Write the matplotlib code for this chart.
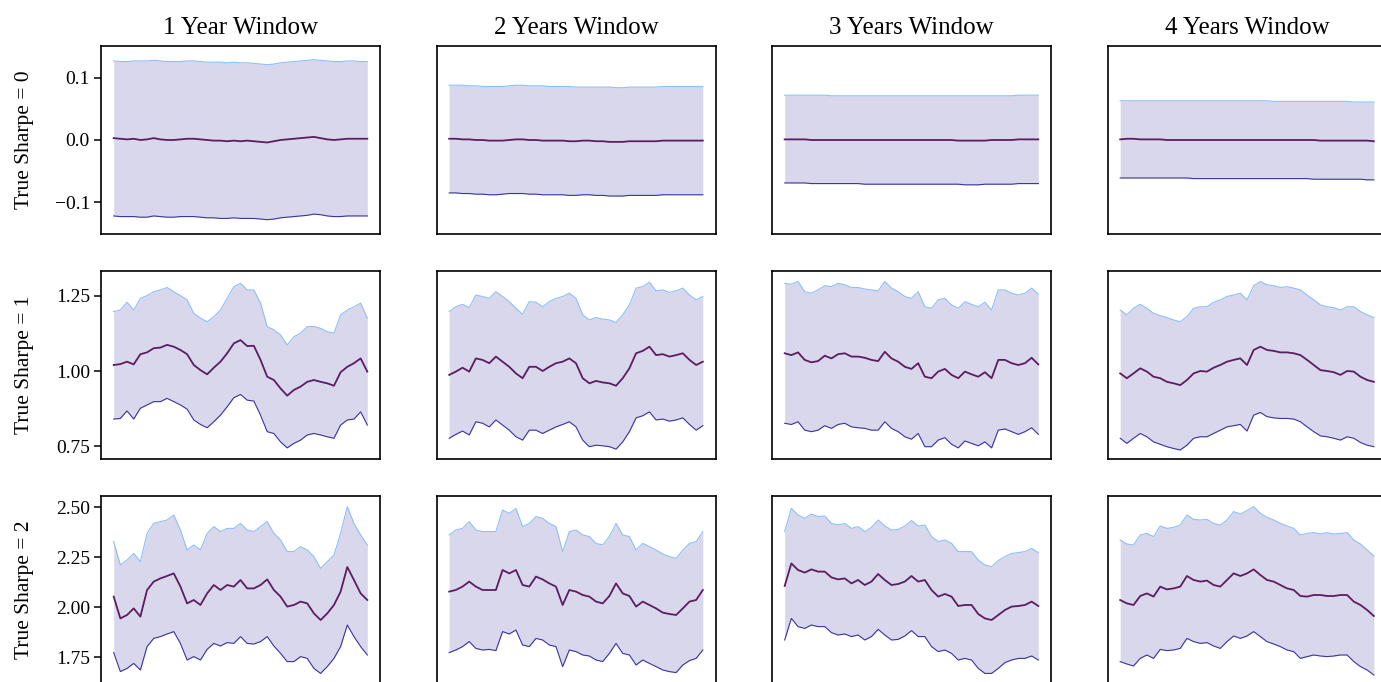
import numpy as np
import matplotlib
matplotlib.use("Agg")
import matplotlib.pyplot as plt

plt.rcParams["font.family"] = ["Liberation Serif", "DejaVu Serif"]

windows = ["1 Year Window", "2 Years Window", "3 Years Window", "4 Years Window"]
true_sharpes = [0, 1, 2]

# ---- True Sharpe = 0 ----
s0_w1_mean = [0.003, 0.002, 0.001, 0.002, 0.000, 0.001, 0.003, 0.001, 0.000, 0.000, 0.001, 0.002, 0.002,
              0.001, 0.000, -0.001, -0.001, -0.002, -0.001, -0.002, -0.001, -0.002, -0.003, -0.004, -0.002,
              0.000, 0.001, 0.002, 0.003, 0.004, 0.005, 0.003, 0.001, 0.000, 0.001, 0.002, 0.002, 0.002, 0.002]
s0_w1_upper = [0.127, 0.126, 0.126, 0.127, 0.127, 0.127, 0.128, 0.127, 0.126, 0.126, 0.126, 0.127, 0.127,
               0.126, 0.125, 0.125, 0.125, 0.124, 0.125, 0.124, 0.124, 0.123, 0.122, 0.121, 0.122,
               0.124, 0.125, 0.126, 0.127, 0.128, 0.129, 0.128, 0.127, 0.126, 0.126, 0.127, 0.127, 0.126, 0.126]
s0_w1_lower = [-0.122, -0.123, -0.123, -0.123, -0.124, -0.124, -0.122, -0.123, -0.124, -0.124, -0.123, -0.123,
               -0.123, -0.124, -0.125, -0.125, -0.126, -0.126, -0.125, -0.126, -0.126, -0.126, -0.127, -0.128,
               -0.127, -0.125, -0.124, -0.123, -0.122, -0.121, -0.119, -0.120, -0.122, -0.123, -0.123, -0.122,
               -0.122, -0.122, -0.122]

s0_w2_mean = [0.002, 0.002, 0.001, 0.001, 0.000, 0.000, -0.001, -0.001, -0.001, 0.000, 0.001, 0.001, 0.000,
              0.000, -0.001, -0.001, -0.001, -0.001, -0.002, -0.002, -0.001, -0.001, -0.002, -0.002, -0.003,
              -0.003, -0.003, -0.002, -0.002, -0.002, -0.002, -0.002, -0.001, -0.001, -0.001, -0.001, -0.001,
              -0.001, -0.001]
s0_w2_upper = [0.088, 0.088, 0.088, 0.087, 0.087, 0.086, 0.086, 0.086, 0.086, 0.087, 0.088, 0.088, 0.087,
               0.087, 0.087, 0.086, 0.086, 0.086, 0.086, 0.085, 0.085, 0.085, 0.085, 0.085, 0.085,
               0.084, 0.084, 0.085, 0.085, 0.085, 0.085, 0.085, 0.086, 0.086, 0.086, 0.086, 0.086, 0.086, 0.086]
s0_w2_lower = [-0.085, -0.085, -0.086, -0.086, -0.087, -0.087, -0.088, -0.088, -0.087, -0.086, -0.086, -0.086,
               -0.087, -0.087, -0.088, -0.088, -0.088, -0.088, -0.089, -0.089, -0.088, -0.088, -0.089, -0.089,
               -0.090, -0.090, -0.090, -0.089, -0.089, -0.089, -0.089, -0.089, -0.088, -0.088, -0.088, -0.088,
               -0.088, -0.088, -0.088]

s0_w3_mean = [0.001, 0.001, 0.001, 0.001, 0.000, 0.000, 0.000, 0.000, 0.000, 0.000, 0.000, 0.000, 0.000,
              0.000, 0.000, 0.000, 0.000, 0.000, 0.000, 0.000, 0.000, 0.000, 0.000, 0.000, 0.000,
              0.000, -0.001, -0.001, -0.001, -0.001, -0.001, 0.000, 0.000, 0.000, 0.000, 0.001, 0.001, 0.001, 0.001]
s0_w3_upper = [0.072, 0.072, 0.072, 0.072, 0.072, 0.072, 0.072, 0.071, 0.071, 0.071, 0.071, 0.071, 0.071,
               0.071, 0.071, 0.071, 0.071, 0.071, 0.071, 0.071, 0.071, 0.071, 0.071, 0.071, 0.071,
               0.071, 0.071, 0.071, 0.071, 0.071, 0.071, 0.071, 0.071, 0.071, 0.071, 0.072, 0.072, 0.072, 0.072]
s0_w3_lower = [-0.069, -0.069, -0.069, -0.069, -0.070, -0.070, -0.070, -0.070, -0.070, -0.070, -0.070, -0.070,
               -0.071, -0.071, -0.071, -0.071, -0.071, -0.071, -0.071, -0.071, -0.071, -0.071, -0.071, -0.071,
               -0.071, -0.071, -0.071, -0.072, -0.072, -0.072, -0.071, -0.071, -0.071, -0.071, -0.071, -0.070,
               -0.070, -0.070, -0.070]

s0_w4_mean = [0.001, 0.002, 0.002, 0.001, 0.001, 0.001, 0.001, 0.000, 0.000, 0.000, 0.000, 0.000, 0.000,
              0.000, 0.000, 0.000, 0.000, 0.000, 0.000, 0.000, 0.000, 0.000, 0.000, 0.000, 0.000,
              0.000, 0.000, 0.000, 0.000, 0.000, -0.001, -0.001, -0.001, -0.001, -0.001, -0.001, -0.001,
              -0.001, -0.002]
s0_w4_upper = [0.063, 0.063, 0.063, 0.063, 0.063, 0.063, 0.063, 0.063, 0.063, 0.063, 0.063, 0.063, 0.063,
               0.063, 0.063, 0.063, 0.063, 0.063, 0.063, 0.063, 0.063, 0.063, 0.063, 0.062, 0.062,
               0.062, 0.062, 0.062, 0.062, 0.062, 0.062, 0.062, 0.062, 0.062, 0.062, 0.061, 0.061, 0.061, 0.061]
s0_w4_lower = [-0.061, -0.061, -0.061, -0.061, -0.061, -0.061, -0.061, -0.061, -0.061, -0.061, -0.061, -0.062,
               -0.062, -0.062, -0.062, -0.062, -0.062, -0.062, -0.062, -0.062, -0.062, -0.062, -0.062, -0.062,
               -0.062, -0.062, -0.062, -0.062, -0.062, -0.063, -0.063, -0.063, -0.063, -0.063, -0.063, -0.063,
               -0.063, -0.064, -0.064]

# ---- True Sharpe = 1 ----
s1_w1_mean = [1.020, 1.023, 1.031, 1.022, 1.056, 1.062, 1.076, 1.078, 1.087, 1.081, 1.070, 1.056, 1.020,
              1.003, 0.989, 1.011, 1.031, 1.059, 1.092, 1.103, 1.083, 1.084, 1.037, 0.981, 0.970, 0.942,
              0.918, 0.937, 0.948, 0.964, 0.970, 0.964, 0.959, 0.951, 0.996, 1.014, 1.026, 1.042, 0.998]
s1_w1_upper = [1.198, 1.203, 1.229, 1.203, 1.242, 1.251, 1.264, 1.270, 1.278, 1.264, 1.251, 1.237, 1.192,
               1.176, 1.164, 1.181, 1.203, 1.242, 1.281, 1.292, 1.270, 1.270, 1.226, 1.148, 1.137, 1.120,
               1.087, 1.114, 1.126, 1.148, 1.148, 1.142, 1.131, 1.126, 1.187, 1.203, 1.214, 1.226, 1.176]
s1_w1_lower = [0.840, 0.842, 0.867, 0.840, 0.876, 0.887, 0.898, 0.898, 0.909, 0.898, 0.887, 0.873, 0.837,
               0.822, 0.811, 0.831, 0.853, 0.881, 0.911, 0.922, 0.903, 0.900, 0.853, 0.798, 0.792, 0.764,
               0.744, 0.759, 0.770, 0.787, 0.792, 0.787, 0.781, 0.776, 0.820, 0.837, 0.840, 0.864, 0.820]

s1_w2_mean = [0.987, 0.998, 1.011, 0.998, 1.042, 1.037, 1.026, 1.048, 1.031, 1.014, 0.992, 0.976, 1.014,
              1.014, 1.000, 1.014, 1.026, 1.031, 1.042, 1.026, 0.976, 0.959, 0.967, 0.962, 0.959, 0.951,
              0.976, 1.009, 1.059, 1.067, 1.081, 1.053, 1.056, 1.048, 1.053, 1.059, 1.037, 1.020, 1.031]
s1_w2_upper = [1.198, 1.214, 1.222, 1.211, 1.253, 1.248, 1.242, 1.264, 1.248, 1.231, 1.209, 1.189, 1.231,
               1.229, 1.214, 1.231, 1.242, 1.248, 1.259, 1.242, 1.187, 1.170, 1.178, 1.173, 1.170, 1.162,
               1.187, 1.220, 1.276, 1.281, 1.296, 1.267, 1.270, 1.262, 1.267, 1.276, 1.253, 1.237, 1.248]
s1_w2_lower = [0.776, 0.789, 0.800, 0.787, 0.831, 0.826, 0.814, 0.837, 0.820, 0.803, 0.781, 0.770, 0.803,
               0.803, 0.792, 0.803, 0.814, 0.822, 0.831, 0.814, 0.770, 0.748, 0.753, 0.751, 0.748, 0.740,
               0.764, 0.798, 0.844, 0.851, 0.864, 0.837, 0.840, 0.833, 0.837, 0.844, 0.822, 0.803, 0.818]

s1_w3_mean = [1.059, 1.053, 1.062, 1.037, 1.029, 1.033, 1.051, 1.042, 1.056, 1.059, 1.048, 1.048, 1.044,
              1.037, 1.033, 1.064, 1.042, 1.031, 1.014, 1.007, 1.026, 0.981, 0.976, 0.998, 1.007, 0.987,
              0.976, 0.998, 0.989, 0.981, 0.996, 0.976, 1.037, 1.037, 1.026, 1.020, 1.026, 1.044, 1.022]
s1_w3_upper = [1.292, 1.289, 1.298, 1.264, 1.259, 1.270, 1.284, 1.281, 1.292, 1.287, 1.278, 1.278, 1.273,
               1.270, 1.267, 1.298, 1.276, 1.264, 1.248, 1.242, 1.264, 1.214, 1.209, 1.237, 1.242, 1.220,
               1.209, 1.231, 1.222, 1.214, 1.229, 1.203, 1.270, 1.270, 1.259, 1.253, 1.259, 1.276, 1.256]
s1_w3_lower = [0.826, 0.822, 0.831, 0.803, 0.798, 0.803, 0.818, 0.809, 0.822, 0.826, 0.814, 0.811, 0.809,
               0.803, 0.803, 0.831, 0.809, 0.798, 0.781, 0.773, 0.792, 0.748, 0.748, 0.770, 0.778, 0.756,
               0.744, 0.767, 0.759, 0.751, 0.764, 0.744, 0.803, 0.807, 0.798, 0.789, 0.798, 0.811, 0.789]

s1_w4_mean = [0.992, 0.976, 0.992, 1.009, 0.998, 0.981, 0.976, 0.964, 0.959, 0.953, 0.970, 0.992, 1.000,
              0.998, 1.011, 1.020, 1.031, 1.037, 1.042, 1.020, 1.070, 1.081, 1.070, 1.067, 1.062, 1.062,
              1.059, 1.053, 1.037, 1.020, 1.003, 1.000, 0.996, 0.987, 1.000, 0.998, 0.981, 0.970, 0.964]
s1_w4_upper = [1.203, 1.187, 1.209, 1.222, 1.209, 1.192, 1.184, 1.178, 1.170, 1.164, 1.181, 1.209, 1.214,
               1.214, 1.229, 1.237, 1.248, 1.253, 1.259, 1.237, 1.284, 1.298, 1.287, 1.284, 1.278, 1.281,
               1.276, 1.270, 1.253, 1.237, 1.220, 1.214, 1.211, 1.203, 1.214, 1.214, 1.198, 1.187, 1.178]
s1_w4_lower = [0.776, 0.759, 0.776, 0.792, 0.781, 0.764, 0.756, 0.748, 0.742, 0.737, 0.753, 0.776, 0.781,
               0.781, 0.792, 0.803, 0.814, 0.818, 0.822, 0.800, 0.853, 0.862, 0.848, 0.844, 0.842, 0.842,
               0.840, 0.831, 0.814, 0.798, 0.784, 0.781, 0.776, 0.770, 0.781, 0.776, 0.762, 0.753, 0.748]

# ---- True Sharpe = 2 ----
s2_w1_mean = [2.052, 1.943, 1.960, 1.993, 1.952, 2.085, 2.127, 2.143, 2.155, 2.168, 2.102, 2.018, 2.035,
              2.010, 2.068, 2.110, 2.085, 2.110, 2.102, 2.135, 2.093, 2.093, 2.110, 2.138, 2.085, 2.052,
              2.002, 2.010, 2.027, 2.018, 1.968, 1.935, 1.968, 2.010, 2.077, 2.200, 2.135, 2.068, 2.035]
s2_w1_upper = [2.327, 2.210, 2.235, 2.268, 2.227, 2.368, 2.418, 2.427, 2.435, 2.460, 2.385, 2.285, 2.310,
               2.285, 2.368, 2.402, 2.377, 2.393, 2.393, 2.418, 2.385, 2.377, 2.402, 2.427, 2.368, 2.335,
               2.277, 2.277, 2.302, 2.285, 2.252, 2.193, 2.227, 2.260, 2.368, 2.502, 2.418, 2.360, 2.310]
s2_w1_lower = [1.772, 1.677, 1.693, 1.718, 1.685, 1.802, 1.843, 1.852, 1.865, 1.877, 1.818, 1.735, 1.752,
               1.735, 1.788, 1.818, 1.805, 1.822, 1.818, 1.852, 1.818, 1.815, 1.827, 1.852, 1.805, 1.768,
               1.727, 1.727, 1.752, 1.743, 1.693, 1.668, 1.702, 1.743, 1.802, 1.910, 1.852, 1.802, 1.760]

s2_w2_mean = [2.077, 2.085, 2.102, 2.127, 2.102, 2.085, 2.085, 2.085, 2.185, 2.168, 2.185, 2.110, 2.102,
              2.152, 2.138, 2.118, 2.102, 2.010, 2.085, 2.077, 2.060, 2.052, 2.027, 2.018, 2.055, 2.118,
              2.068, 2.055, 2.002, 2.027, 2.010, 1.993, 1.972, 1.965, 1.960, 1.993, 2.027, 2.035, 2.085]
s2_w2_upper = [2.360, 2.385, 2.393, 2.427, 2.385, 2.377, 2.377, 2.377, 2.485, 2.468, 2.493, 2.402, 2.418,
               2.452, 2.443, 2.418, 2.402, 2.277, 2.377, 2.385, 2.360, 2.352, 2.318, 2.310, 2.352, 2.418,
               2.360, 2.352, 2.285, 2.318, 2.302, 2.285, 2.265, 2.252, 2.243, 2.285, 2.318, 2.327, 2.377]
s2_w2_lower = [1.772, 1.785, 1.802, 1.827, 1.793, 1.785, 1.788, 1.782, 1.877, 1.865, 1.885, 1.810, 1.802,
               1.843, 1.835, 1.810, 1.802, 1.702, 1.785, 1.777, 1.760, 1.755, 1.735, 1.727, 1.768, 1.818,
               1.768, 1.760, 1.710, 1.735, 1.718, 1.702, 1.685, 1.677, 1.672, 1.710, 1.732, 1.743, 1.785]

s2_w3_mean = [2.105, 2.218, 2.185, 2.172, 2.188, 2.177, 2.177, 2.148, 2.138, 2.143, 2.118, 2.135, 2.110,
              2.127, 2.165, 2.135, 2.110, 2.115, 2.127, 2.155, 2.127, 2.135, 2.085, 2.052, 2.065, 2.052,
              2.005, 2.010, 2.010, 1.965, 1.943, 1.935, 1.960, 1.985, 2.002, 2.005, 2.010, 2.027, 2.005]
s2_w3_upper = [2.377, 2.493, 2.460, 2.443, 2.465, 2.452, 2.455, 2.418, 2.410, 2.418, 2.393, 2.402, 2.377,
               2.398, 2.435, 2.405, 2.385, 2.388, 2.405, 2.432, 2.405, 2.410, 2.352, 2.327, 2.335, 2.318,
               2.277, 2.277, 2.277, 2.235, 2.210, 2.202, 2.232, 2.252, 2.268, 2.272, 2.277, 2.293, 2.272]
s2_w3_lower = [1.835, 1.943, 1.902, 1.893, 1.910, 1.902, 1.902, 1.872, 1.860, 1.865, 1.852, 1.860, 1.835,
               1.852, 1.888, 1.860, 1.835, 1.838, 1.855, 1.882, 1.852, 1.852, 1.802, 1.777, 1.785, 1.768,
               1.735, 1.743, 1.735, 1.693, 1.668, 1.668, 1.693, 1.722, 1.735, 1.743, 1.743, 1.755, 1.735]

s2_w4_mean = [2.035, 2.018, 2.010, 2.055, 2.068, 2.052, 2.102, 2.088, 2.093, 2.102, 2.155, 2.135, 2.127,
              2.132, 2.110, 2.102, 2.135, 2.168, 2.155, 2.168, 2.188, 2.160, 2.135, 2.127, 2.110, 2.093,
              2.085, 2.055, 2.052, 2.060, 2.060, 2.055, 2.055, 2.060, 2.060, 2.027, 2.010, 1.985, 1.955]
s2_w4_upper = [2.335, 2.315, 2.310, 2.360, 2.368, 2.352, 2.405, 2.393, 2.398, 2.410, 2.460, 2.438, 2.435,
               2.438, 2.418, 2.410, 2.435, 2.477, 2.465, 2.482, 2.502, 2.468, 2.448, 2.435, 2.418, 2.405,
               2.393, 2.360, 2.368, 2.372, 2.365, 2.372, 2.365, 2.368, 2.372, 2.335, 2.315, 2.285, 2.255]
s2_w4_lower = [1.727, 1.715, 1.705, 1.743, 1.760, 1.743, 1.788, 1.782, 1.785, 1.793, 1.843, 1.827, 1.818,
               1.822, 1.805, 1.793, 1.827, 1.855, 1.843, 1.855, 1.877, 1.852, 1.827, 1.815, 1.802, 1.785,
               1.777, 1.743, 1.752, 1.760, 1.755, 1.752, 1.755, 1.760, 1.760, 1.727, 1.702, 1.685, 1.660]

row_ylims = [(-0.151, 0.151), (0.707, 1.333), (1.615, 2.555)]
row_yticks = [[-0.1, 0.0, 0.1], [0.75, 1.00, 1.25], [1.75, 2.00, 2.25, 2.50]]
row_tickfmt = ["{:.1f}", "{:.2f}", "{:.2f}"]

panels = [
    [(s0_w1_mean, s0_w1_upper, s0_w1_lower), (s0_w2_mean, s0_w2_upper, s0_w2_lower),
     (s0_w3_mean, s0_w3_upper, s0_w3_lower), (s0_w4_mean, s0_w4_upper, s0_w4_lower)],
    [(s1_w1_mean, s1_w1_upper, s1_w1_lower), (s1_w2_mean, s1_w2_upper, s1_w2_lower),
     (s1_w3_mean, s1_w3_upper, s1_w3_lower), (s1_w4_mean, s1_w4_upper, s1_w4_lower)],
    [(s2_w1_mean, s2_w1_upper, s2_w1_lower), (s2_w2_mean, s2_w2_upper, s2_w2_lower),
     (s2_w3_mean, s2_w3_upper, s2_w3_lower), (s2_w4_mean, s2_w4_upper, s2_w4_lower)],
]

FILL = "#d9d7eb"
MEAN_C = "#5b1d5f"
UPPER_C = "#8cc0f6"
LOWER_C = "#3b33a3"

W, H = 1381, 682
fig = plt.figure(figsize=(W / 100, H / 100), dpi=100)

col_left = [101, 436.5, 772, 1107.5]
row_top = [46, 271, 496]
ax_w, ax_h = 279, 188

for r in range(3):
    for c in range(4):
        ax = fig.add_axes([col_left[c] / W, 1 - (row_top[r] + ax_h) / H, ax_w / W, ax_h / H])
        mean, upper, lower = (np.asarray(a) for a in panels[r][c])
        x = np.arange(len(mean))
        ax.fill_between(x, lower, upper, color=FILL, linewidth=0)
        ax.plot(x, upper, color=UPPER_C, lw=0.8)
        ax.plot(x, lower, color=LOWER_C, lw=0.8)
        ax.plot(x, mean, color=MEAN_C, lw=1.3)
        ax.set_ylim(*row_ylims[r])
        ax.set_xticks([])
        if c == 0:
            ax.set_yticks(row_yticks[r])
            ax.set_yticklabels([row_tickfmt[r].format(v).replace("-", "\u2212") for v in row_yticks[r]])
            ax.tick_params(axis="y", labelsize=14, length=5, width=1.1, pad=3)
            ax.set_ylabel(f"True Sharpe = {true_sharpes[r]}", fontsize=15.5)
            ax.yaxis.set_label_coords(-0.24, 0.5)
        else:
            ax.set_yticks([])
        if r == 0:
            ax.set_title(windows[c], fontsize=18, pad=9)
        for sp in ax.spines.values():
            sp.set_linewidth(1.2)
            sp.set_color("black")

fig.savefig("out.png", dpi=100, facecolor="white")
